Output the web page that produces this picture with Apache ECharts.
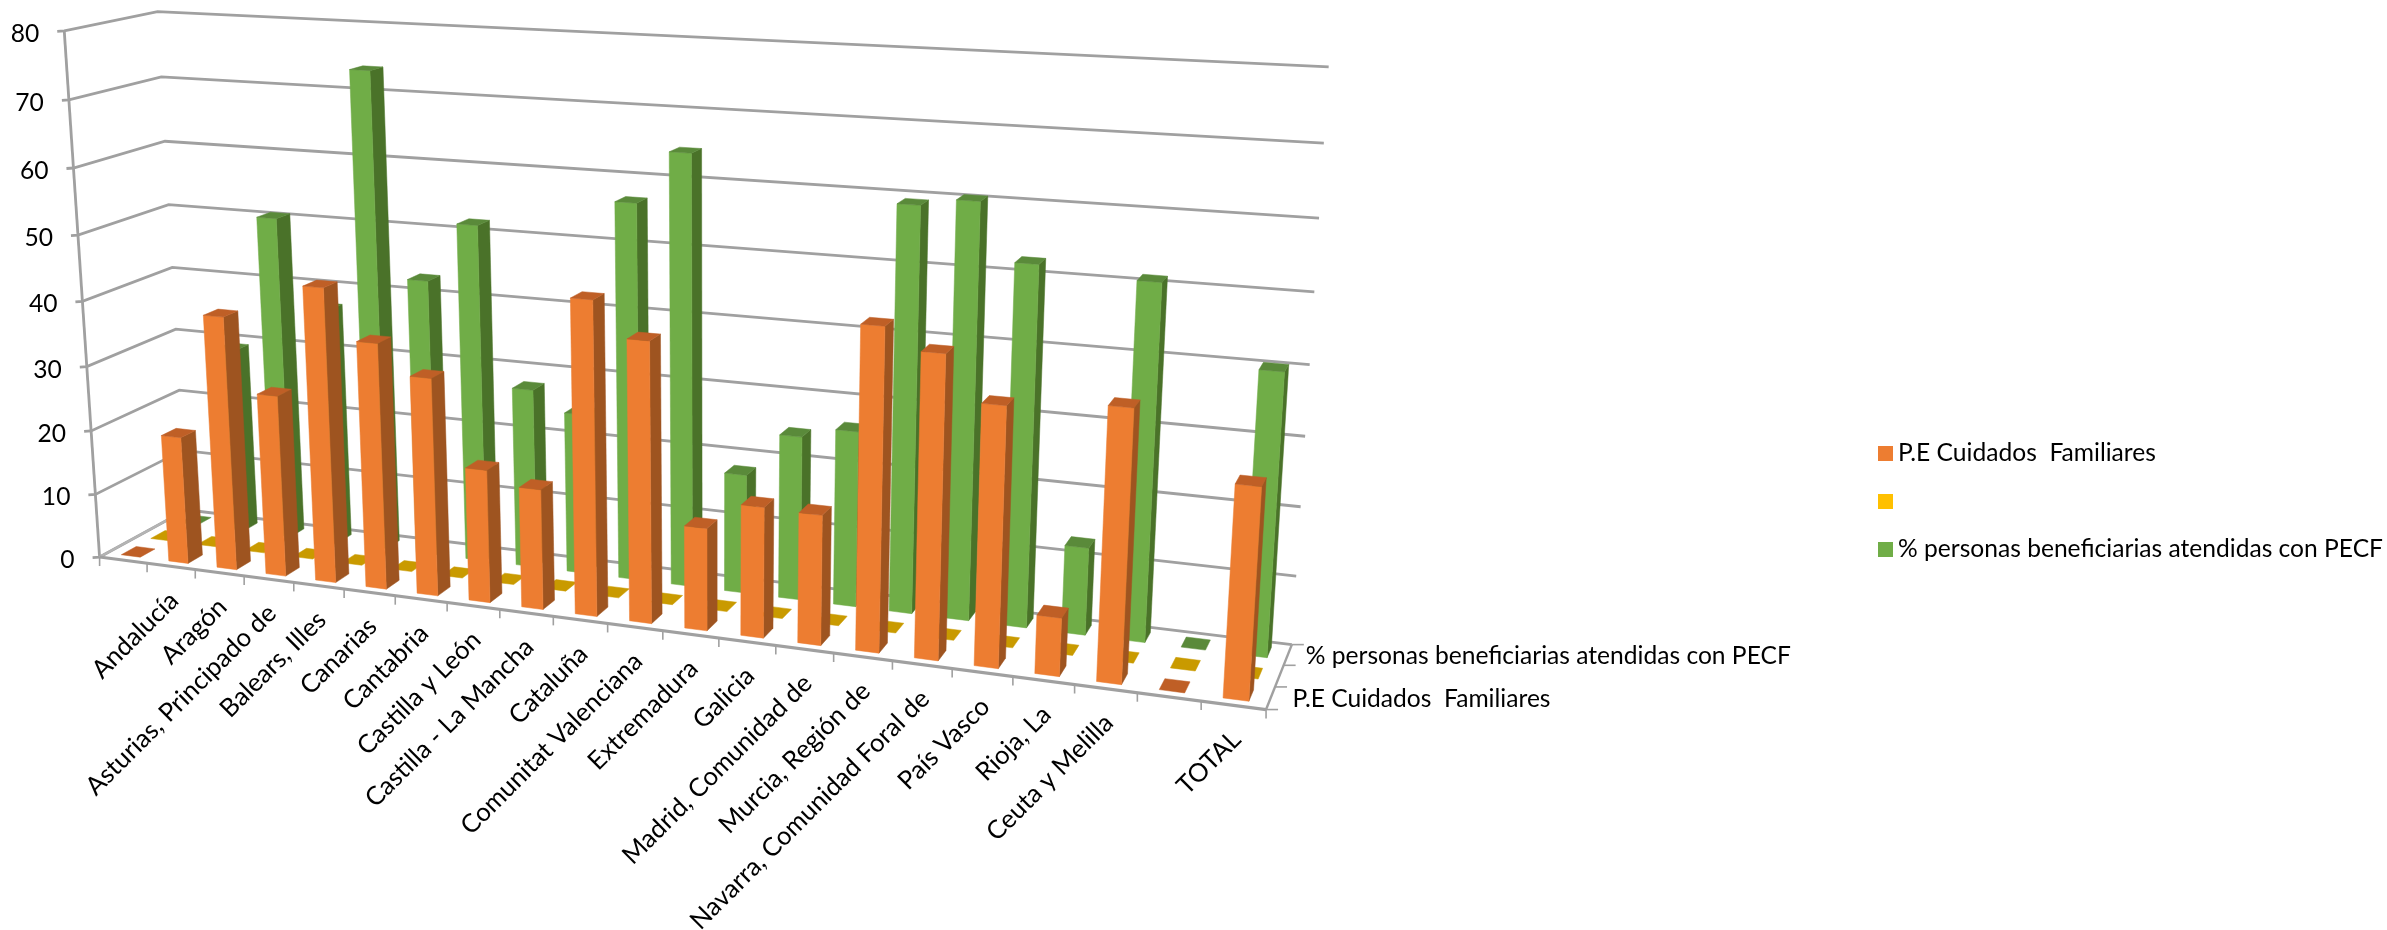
<!DOCTYPE html>
<html><head><meta charset="utf-8">
<style>html,body{margin:0;padding:0;background:#fff}#c{width:2387px;height:930px}</style>
<script src="https://cdn.jsdelivr.net/npm/echarts@6/dist/echarts.min.js"></script>
</head><body><div id="c"></div>
<script>
const categories = ["", "Andalucía", "Aragón", "Asturias, Principado de", "Balears, Illes", "Canarias", "Cantabria", "Castilla y León", "Castilla - La Mancha", "Cataluña", "Comunitat Valenciana", "Extremadura", "Galicia", "Madrid, Comunidad de", "Murcia, Región de", "Navarra, Comunidad Foral de", "País Vasco", "Rioja, La", "Ceuta y Melilla", "", "TOTAL"];
const valueTicks = [0,10,20,30,40,50,60,70,80];
const nameCuidados = "P.E Cuidados  Familiares";
const nameBlank = " ";
const namePct = "% personas beneficiarias atendidas con PECF";
const cuidados = [0,19.8,39,27.8,44.7,37.2,32.8,20,18,46.3,41.2,15.1,19.1,18.9,46.1,43.1,36.8,8.3,38.1,0,29.3];
const blankSeries = [0,0,0,0,0,0,0,0,0,0,0,0,0,0,0,0,0,0,0,0,0];
const pctAtendidas = [0,29.2,50.5,37,73.7,42.8,51.8,27.6,24.6,56.8,64.5,18,24.6,26.2,59.3,60.4,52.3,12.8,51.1,0,40.3];

const FONT = 'Lato';
const FS = 24.6;
const FS_CAT = 25.6;
const GRID = {left:99, top:31, width:1167, height:526};
const BAR_W = 0.4, BAR_D = 0.5;
// Camera calibration: [u, depth, v, screenX, screenY] of the 3D box reference points
const calib = [
 [0,0,0,99,557],[1,0,0,1266,710],[0,1,0,187,510],[1,1,0,1292,644],
 [0,0,1,65,31],[0,1,1,157,12],[1,1,1,1329,67],
 [0,0,.5,82.6,301],[0,1,.5,172,267],[1,1,.5,1309.6,365],
 [0,0,.25,91,430],[0,1,.25,179.5,391],[1,1,.25,1300.5,506],
 [0,0,.75,73.5,168],[0,1,.75,164.5,141],[1,1,.75,1319,218],
 [5/21,0,0,344,589],[10/21,0,0,608,624],[15/21,0,0,892,661]
];
function solveCamera(pts){
  const A=[],B=[];
  pts.forEach(p=>{const [u,d,v,X0,Y0]=p,X=X0/1000,Y=Y0/1000;
    A.push([u,d,v,1,0,0,0,0,-X*u,-X*d,-X*v]);B.push(X);
    A.push([0,0,0,0,u,d,v,1,-Y*u,-Y*d,-Y*v]);B.push(Y);});
  const n=11,M=[];
  for(let i=0;i<n;i++){M.push(new Array(n+1).fill(0));
    for(let j=0;j<n;j++)for(let r=0;r<A.length;r++)M[i][j]+=A[r][i]*A[r][j];
    for(let r=0;r<A.length;r++)M[i][n]+=A[r][i]*B[r];}
  for(let c=0;c<n;c++){let m=c;for(let r=c+1;r<n;r++)if(Math.abs(M[r][c])>Math.abs(M[m][c]))m=r;
    [M[c],M[m]]=[M[m],M[c]];
    for(let r=0;r<n;r++){if(r===c)continue;const f=M[r][c]/M[c][c];for(let k=c;k<=n;k++)M[r][k]-=f*M[c][k];}}
  return M.map((row,i)=>row[n]/row[i]);
}
const h=solveCamera(calib);
function P(u,d,v){const w=h[8]*u+h[9]*d+h[10]*v+1;
  return [1000*(h[0]*u+h[1]*d+h[2]*v+h[3])/w,1000*(h[4]*u+h[5]*d+h[6]*v+h[7])/w];}
function norm(cs,pt){return [(pt[0]-cs.x)/cs.width,(cs.y+cs.height-pt[1])/cs.height];}
const LINE='#A0A0A0';
function line(pts,w,c){return {type:'polyline',silent:true,shape:{points:pts},style:{stroke:c||LINE,lineWidth:w||2.8,fill:'none'}};}
function label(t,x,y,o){return {type:'text',silent:true,x,y,rotation:(o&&o.rot)||0,style:{text:t,fontFamily:FONT,fontSize:(o&&o.fs)||FS,fill:'#000',align:(o&&o.align)||'left',verticalAlign:'middle'}};}

function barSeries(name,values,depthCenter,fill,side,top){
  return {type:'custom',name,itemStyle:{color:fill},coordinateSystem:'cartesian2d',z:3,
    data:values.map((v,i)=>[i,v]),encode:{x:0,y:1},
    renderItem(params,api){
      const cs=params.coordSys,i=api.value(0);
      const a=norm(cs,api.coord([i,api.value(1)])),band=api.size([1,0])[0]/cs.width;
      const u0=a[0]-band*BAR_W/2,u1=a[0]+band*BAR_W/2,v=a[1];
      const d0=depthCenter-BAR_D/6,d1=depthCenter+BAR_D/6;
      const kids=[];
      const poly=(pts,c)=>kids.push({type:'polygon',silent:true,shape:{points:pts},style:{fill:c,stroke:c,lineWidth:.5}});
      if(v>0){
        poly([P(u1,d0,0),P(u1,d1,0),P(u1,d1,v),P(u1,d0,v)],side);
        poly([P(u0,d0,0),P(u1,d0,0),P(u1,d0,v),P(u0,d0,v)],fill);
      }
      poly([P(u0,d0,v),P(u1,d0,v),P(u1,d1,v),P(u0,d1,v)],top);
      return {type:'group',children:kids};
    }};
}
const wallSeries={type:'custom',name:'walls',coordinateSystem:'cartesian2d',z:1,
  data:valueTicks.map(v=>[0,v]),encode:{x:0,y:1},
  renderItem(params,api){
    const cs=params.coordSys,val=api.value(1);
    const v=norm(cs,api.coord([0,val]))[1];
    const a=P(0,0,v),b=P(0,1,v),c=P(1,1,v);
    return {type:'group',children:[
      line([[a[0]-7,a[1]+.5],a,b,c]),
      label(String(val),a[0]-25,a[1]+3,{align:'right'})
    ]};
  }};
const floorSeries={type:'custom',name:'floor',coordinateSystem:'cartesian2d',z:2,
  data:[[0,0]],encode:{x:0,y:1},
  renderItem(){
    const kids=[
      line([P(0,0,1),P(0,0,0)]),
      line([P(0,0,0),P(0,1,0)],2.2,'#B4B4B4'),
      line([P(1,1,0),P(1,0,0)],2.4),
      line([P(0,0,0),P(1,0,0)],3.2)
    ];
    [0,1/3,2/3,1].forEach(d=>{const p=P(1,d,0);kids.push(line([p,[p[0]+12,p[1]]],1.6));});
    const p1=P(1,1/6,0),p3=P(1,5/6,0);
    kids.push(label(nameCuidados,p1[0]+22,p1[1]+1));
    kids.push(label(namePct,p3[0]+18,p3[1]+1));
    return {type:'group',children:kids};
  }};
const catSeries={type:'custom',name:'cats',coordinateSystem:'cartesian2d',z:2,
  data:categories.map((c,i)=>[i,0]),encode:{x:0,y:1},
  renderItem(params,api){
    const cs=params.coordSys,i=api.value(0);
    const a=norm(cs,api.coord([i,0])),band=api.size([1,0])[0]/cs.width;
    const kids=[];
    const t0=P(a[0]-band/2,0,0),m=P(a[0],0,0);
    kids.push(line([t0,[t0[0],t0[1]+9]],1.6));
    if(i===categories.length-1){const t1=P(a[0]+band/2,0,0);kids.push(line([t1,[t1[0],t1[1]+9]],1.6));}
    const t=categories[i];
    if(t) kids.push(label(t,m[0]+3,m[1]+30,{align:'right',rot:Math.PI/4,fs:FS_CAT}));
    return {type:'group',children:kids};
  }};

const chart=echarts.init(document.getElementById('c'));
chart.setOption({
  animation:false,backgroundColor:'#fff',
  grid:{left:GRID.left,top:GRID.top,width:GRID.width,height:GRID.height},
  xAxis:{type:'category',data:categories.map((c,i)=>String(i)),show:false},
  yAxis:{type:'value',min:0,max:80,interval:10,show:false},
  legend:{orient:'vertical',left:1878,top:441,padding:0,itemWidth:15,itemHeight:15,itemGap:23,icon:'rect',
    textStyle:{fontFamily:FONT,fontSize:FS,color:'#000'},itemStyle:{borderWidth:0},
    data:[nameCuidados,nameBlank,namePct],selectedMode:false},
  series:[wallSeries,floorSeries,catSeries,
    barSeries(namePct,pctAtendidas,5/6,'#70AD47','#4A7229','#5A8A3A'),
    barSeries(nameBlank,blankSeries,3/6,'#FFC000','#B38700','#C99A00'),
    barSeries(nameCuidados,cuidados,1/6,'#ED7D31','#9E5420','#BF5F26')]
});
</script></body></html>
